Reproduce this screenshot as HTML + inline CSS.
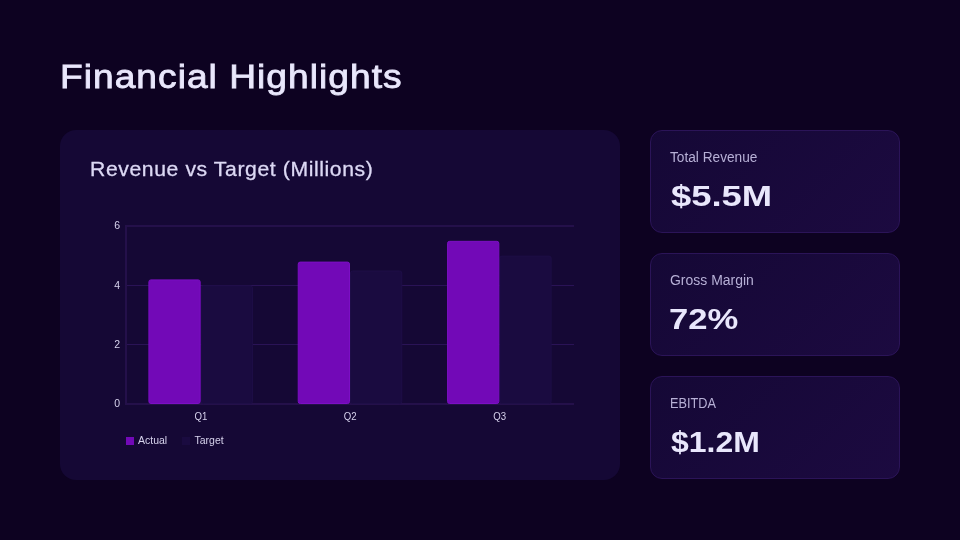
<!DOCTYPE html>
<html lang="en">
<head>
<meta charset="utf-8">
<title>Financial Highlights</title>
<style>
  html, body { margin: 0; padding: 0; }
  body {
    width: 960px; height: 540px; overflow: hidden; position: relative;
    background: #0d0221;
    font-family: "Liberation Sans", sans-serif;
    color: #e8e6fb;
  }
  #stage { position: absolute; left: 0; top: 0; width: 960px; height: 540px; will-change: transform; }
  .abs { position: absolute; white-space: nowrap; line-height: 1; transform-origin: 0 0; }
  h1.title {
    margin: 0; left: 60.2px; top: 61.49px; font-size: 32.5px; font-weight: 400;
    -webkit-text-stroke: 0.8px #e9e7fc; letter-spacing: 0.9px;
    color: #e9e7fc; transform: scaleX(1.1428);
  }
  .panel {
    position: absolute; left: 60px; top: 130px; width: 560px; height: 350px;
    border-radius: 16px; background: #150835;
  }
  h2.ctitle {
    margin: 0; left: 89.90px; top: 160.3px; font-size: 19.3px; font-weight: 400;
    letter-spacing: 0.55px; -webkit-text-stroke: 0.3px #dcd8f4;
    color: #dcd8f4; transform: scaleX(1.0973);
  }
  .card {
    position: absolute; left: 650px; width: 248px; height: 101px;
    border: 1px solid #2b1458; border-radius: 12px;
    background: linear-gradient(135deg, #150836 0%, #1c0a40 100%);
  }
  .lbl { font-size: 15.1px; color: #b7b0d6; }
  .val { font-size: 29px; font-weight: 700; color: #e9e7fc; }
  svg text { font-family: "Liberation Sans", sans-serif; }
</style>
</head>
<body>
<div id="stage">
  <h1 class="abs title" id="t1">Financial Highlights</h1>

  <div class="panel"></div>
  <h2 class="abs ctitle" id="t2">Revenue vs Target (Millions)</h2>

  <svg id="chart" class="abs" style="left:60px;top:130px" width="560" height="350" viewBox="60 130 560 350">
    <!-- gridlines -->
    <g fill="#24104a">
      <rect x="125" y="225" width="449" height="2"/>
      <rect x="125" y="403" width="449" height="2"/>
      <rect x="125" y="225" width="2" height="180"/>
    </g>
    <g fill="#2a1356">
      <rect x="127" y="285" width="447" height="1"/>
      <rect x="127" y="344" width="447" height="1"/>
    </g>
    <!-- target bars -->
    <g fill="#1a0b40" stroke="#1e0e47" stroke-width="1">
      <rect x="201.17" y="285.83" width="51.27" height="117.67" rx="2"/>
      <rect x="350.5" y="271" width="51.27" height="132.5" rx="2"/>
      <rect x="499.83" y="256.17" width="51.27" height="147.33" rx="2"/>
    </g>
    <!-- actual bars -->
    <g fill="#7209b7" stroke="#7c0fc4" stroke-width="1">
      <rect x="148.9" y="279.9" width="51.27" height="123.6" rx="2"/>
      <rect x="298.23" y="262.1" width="51.27" height="141.4" rx="2"/>
      <rect x="447.57" y="241.33" width="51.27" height="162.17" rx="2"/>
    </g>
    <g fill="#d6d2ec" font-size="10.5">
      <text x="120" y="229" text-anchor="end">6</text>
      <text x="120" y="288.5" text-anchor="end">4</text>
      <text x="120" y="347.5" text-anchor="end">2</text>
      <text x="120" y="407" text-anchor="end">0</text>
      <text transform="translate(201 420) scale(0.92 1)" text-anchor="middle">Q1</text>
      <text transform="translate(350.3 420) scale(0.92 1)" text-anchor="middle">Q2</text>
      <text transform="translate(499.6 420) scale(0.92 1)" text-anchor="middle">Q3</text>
    </g>
    <rect x="126" y="437" width="8" height="8" fill="#7209b7"/>
    <rect x="182" y="437" width="8" height="8" fill="#1a0b40"/>
    <g fill="#d6d2ec" font-size="11">
      <text transform="translate(138 444) scale(0.955 1)">Actual</text>
      <text transform="translate(194.5 444) scale(0.955 1)">Target</text>
    </g>
  </svg>

  <div class="card" style="top:130px"></div>
  <div class="card" style="top:253px"></div>
  <div class="card" style="top:376px"></div>

  <div class="abs lbl" style="left:670.30px;top:149.02px;transform:scaleX(0.9062)">Total Revenue</div>
  <div class="abs val" style="left:670.80px;top:182.2px;transform:scaleX(1.2557)">$5.5M</div>
  <div class="abs lbl" style="left:670.0px;top:272.02px;transform:scaleX(0.9255)">Gross Margin</div>
  <div class="abs val" style="left:668.61px;top:305.2px;transform:scaleX(1.1930)">72%</div>
  <div class="abs lbl" style="left:669.86px;top:395.02px;transform:scaleX(0.8426)">EBITDA</div>
  <div class="abs val" style="left:670.80px;top:428.2px;transform:scaleX(1.1013)">$1.2M</div>
</div>
</body>
</html>
